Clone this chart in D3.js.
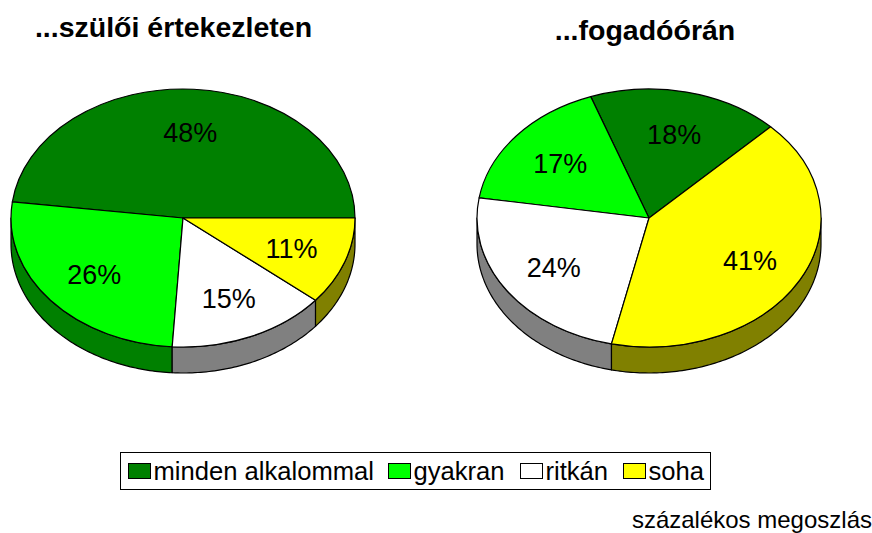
<!DOCTYPE html>
<html><head><meta charset="utf-8">
<script src="https://cdn.jsdelivr.net/npm/d3@7"></script>
<style>html,body{margin:0;padding:0;background:#fff}svg{display:block;font-family:"Liberation Sans",Arial,sans-serif}</style>
</head><body><svg id="c" width="872" height="533"></svg>
<script>
const categories = ["minden alkalommal","gyakran","ritkán","soha"];
const topColors = ["#008000","#00ff00","#ffffff","#ffff00"];
const sideColors = ["#004000","#008000","#808080","#808000"];
const valuesLeft = [48,26,15,11];
const valuesRight = [18,17,24,41];
const titleLeft = "...szülői értekezleten";
const titleRight = "...fogadóórán";
const footer = "százalékos megoszlás";

const svg = d3.select("#c");
const rx = 172, ry = 129, depth = 26, cy = 218, labelR = 0.67;
const rad = d => d * Math.PI / 180;

function drawPie(values, cx, startDeg) {
  const pie = d3.pie().sort(null).startAngle(rad(startDeg)).endAngle(rad(startDeg) - 2 * Math.PI)(values);
  const g = svg.append("g");
  const px = a => cx + rx * Math.sin(a), py = a => cy - ry * Math.cos(a);
  pie.forEach((d, i) => {
    let a0 = Math.min(d.startAngle, d.endAngle), a1 = Math.max(d.startAngle, d.endAngle);
    for (let k = -2; k <= 1; k++) {
      const lo = Math.PI / 2 + 2 * Math.PI * k, hi = lo + Math.PI;
      const s = Math.max(a0, lo), e = Math.min(a1, hi);
      if (e <= s) continue;
      const n = Math.max(2, Math.ceil((e - s) * 60));
      const angs = d3.range(n + 1).map(j => s + (e - s) * j / n);
      const top = angs.map(a => [px(a), py(a)]);
      const bot = angs.slice().reverse().map(a => [px(a), py(a) + depth]);
      g.append("path").attr("d", d3.line()(top.concat(bot)) + "Z")
        .attr("fill", sideColors[i]).attr("stroke", "#000").attr("stroke-width", 1.2)
        .attr("stroke-linejoin", "round");
    }
  });
  const arc = d3.arc().innerRadius(0).outerRadius(rx);
  const tg = g.append("g").attr("transform", `translate(${cx},${cy}) scale(1,${ry / rx})`);
  tg.selectAll("path").data(pie).join("path")
    .attr("d", d => arc({innerRadius:0, outerRadius:rx, startAngle:d.endAngle, endAngle:d.startAngle}))
    .attr("fill", (d, i) => topColors[i]).attr("stroke", "#000").attr("stroke-width", 1.2)
    .attr("vector-effect", "non-scaling-stroke").attr("stroke-linejoin", "round");
  g.selectAll("text").data(pie).join("text")
    .attr("x", d => cx + labelR * rx * Math.sin((d.startAngle + d.endAngle) / 2))
    .attr("y", d => cy - labelR * ry * Math.cos((d.startAngle + d.endAngle) / 2))
    .attr("dy", "0.39em").attr("text-anchor", "middle").attr("font-size", 27).attr("fill", "#000")
    .text(d => d.value + "%");
}
drawPie(valuesLeft, 183, 90);
drawPie(valuesRight, 649, 45);

svg.append("text").attr("x", 173.5).attr("y", 37).attr("text-anchor", "middle")
  .attr("font-size", 28.5).attr("font-weight", "bold").text(titleLeft);
svg.append("text").attr("x", 645).attr("y", 40).attr("text-anchor", "middle")
  .attr("font-size", 28.5).attr("font-weight", "bold").text(titleRight);

svg.append("rect").attr("x", 120.5).attr("y", 452.5).attr("width", 590).attr("height", 37)
  .attr("fill", "#fff").attr("stroke", "#000").attr("stroke-width", 1);
const legendX = [128, 388, 520, 623];
categories.forEach((c, i) => {
  svg.append("rect").attr("x", legendX[i] + .5).attr("y", 463.5).attr("width", 22).attr("height", 15)
    .attr("fill", topColors[i]).attr("stroke", "#000").attr("stroke-width", 1);
  svg.append("text").attr("x", legendX[i] + 25.5).attr("y", 480).attr("font-size", 25.6).text(c);
});
svg.append("text").attr("x", 872).attr("y", 528).attr("text-anchor", "end").attr("font-size", 24).text(footer);
</script></body></html>
